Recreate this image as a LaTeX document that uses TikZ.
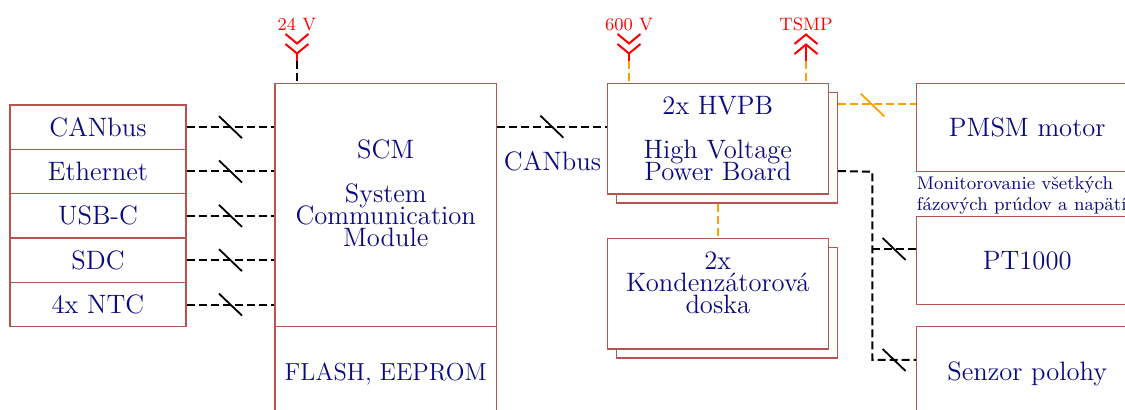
\documentclass[tikz,border=0pt]{standalone}
\usepackage{fontspec}
\usetikzlibrary{calc}
\definecolor{boxred}{RGB}{184,84,80}
\definecolor{txtblue}{RGB}{10,10,130}
\definecolor{hvorange}{RGB}{255,160,0}
\newcommand\mainfnt{\fontsize{13.3}{11}\selectfont\lineskiplimit=-20pt\relax}
\newcommand\flashfnt{\fontsize{12.3}{11}\selectfont}
\newcommand\smallfnt{\fontsize{9.2}{10.5}\selectfont\lineskiplimit=-20pt\relax}
\newcommand\lblfnt{\fontsize{9}{10}\selectfont}
\begin{document}
\begin{tikzpicture}[x=0.5pt,y=-0.5pt,
  box/.style={draw=boxred, line width=0.6pt, fill=white, inner sep=0pt, text=txtblue, font=\mainfnt},
  txt/.style={text=txtblue, font=\mainfnt, align=center, inner sep=0pt, anchor=base},
  small/.style={text=txtblue, font=\smallfnt, align=left, inner sep=0pt, anchor=base west},
  lbl/.style={text=red, font=\lblfnt, inner sep=0pt, anchor=base},
  bus/.style={draw=black, line width=1pt, dash pattern=on 4pt off 2pt},
  hv/.style={draw=hvorange, line width=1pt, dash pattern=on 4pt off 2pt},
  slash/.style={draw=black, line width=0.9pt},
  oslash/.style={draw=hvorange, line width=0.9pt},
  chev/.style={draw=red, line width=1pt},
]
\useasboundingbox (0,0) rectangle (1125,410);
\clip (0,0) rectangle (1125,410);

% left interface boxes
\node[box, minimum width=88pt, minimum height=22.17pt] (can) at (98,127.2) {CANbus};
\node[box, minimum width=88pt, minimum height=22.17pt] (eth) at (98,171.5) {Ethernet};
\node[box, minimum width=88pt, minimum height=22.17pt] (usb) at (98,215.9) {USB-C};
\node[box, minimum width=88pt, minimum height=22.17pt] (sdc) at (98,260.2) {SDC};
\node[box, minimum width=88pt, minimum height=22.17pt] (ntc) at (98,304.6) {4x NTC};

% SCM
\node[box, minimum width=110.75pt, minimum height=121.5pt] (scm) at (385.75,204.8) {};
\node[box, font=\flashfnt, minimum width=110.75pt, minimum height=47.4pt] (flash) at (385.75,373.7) {FLASH, EEPROM};
\node[txt] (scmtxt) at (385.75,246.7) {SCM\\[11pt]System\\Communication\\Module};

% HVPB
\node[box, minimum width=110.5pt, minimum height=55.35pt] (hvpbs) at (726.8,147.65) {};
\node[box, minimum width=110.5pt, minimum height=55.35pt] (hvpb) at (717.8,138.65) {};
\node[txt] (hvpbtxt) at (717.8,180.7) {2x HVPB\\[11pt]High Voltage\\Power Board};

% Kondenzatorova doska
\node[box, minimum width=110.5pt, minimum height=55.35pt] (konds) at (726.8,302.65) {};
\node[box, minimum width=110.5pt, minimum height=55.35pt] (kond) at (717.8,293.65) {};
\node[txt] (kondtxt) at (717.8,313.3) {2x\\Kondenzátorová\\doska};

% right boxes
\node[box, minimum width=110.75pt, minimum height=44.1pt] (pmsm) at (1027.25,127.6) {PMSM motor};
\node[small] (mon) at (916.5,210.3) {Monitorovanie všetkých\\fázových prúdov a napätí};
\node[box, minimum width=110.75pt, minimum height=43.8pt] (pt) at (1027.25,260.5) {PT1000};
\node[box, minimum width=110.75pt, minimum height=46.8pt] (senzor) at (1027.25,373.5) {Senzor polohy};

% left connectors
\foreach \n in {can,eth,usb,sdc,ntc} {
  \draw[bus] (\n.east) -- (\n.east -| scm.west);
  \draw[slash] ($(\n.east)!0.5!(\n.east -| scm.west)$) ++(-11.5,-11) -- ++(23,22);
}

% CANbus SCM -> HVPB
\coordinate (scmcan) at ($(scm.north east)+(0,44)$);
\draw[bus] (scmcan) -- (scmcan -| hvpb.west);
\draw[slash] ($(scmcan)!0.5!(scmcan -| hvpb.west)$) ++(-11.5,-11) -- ++(23,22);
\node[txt] (canlbl) at (552.5,171) {CANbus};

% supply labels and arrows
\node[lbl] (l24) at (297,30.7) {24 V};
\node[lbl] (l600) at (629,30.7) {600 V};
\node[lbl] (ltsmp) at (806,30.7) {TSMP};

\draw[chev] (285.5,34) -- (297,43.5) -- (308.5,34);
\draw[chev] (285.5,44) -- (297,53.5) -- (308.5,44);
\coordinate (a24) at (297,53.5);
\coordinate (s24) at (297,61);
\draw[chev] (a24) -- (s24);
\draw[bus] (s24) -- (s24 |- scm.north);

\draw[chev] (617.5,34) -- (629,43.5) -- (640.5,34);
\draw[chev] (617.5,44) -- (629,53.5) -- (640.5,44);
\coordinate (a600) at (629,53.5);
\coordinate (s600) at (629,61);
\draw[chev] (a600) -- (s600);
\draw[hv] (s600) -- (s600 |- hvpb.north);

\draw[chev] (794.5,44) -- (806,34.5) -- (817.5,44);
\draw[chev] (794.5,54) -- (806,44.5) -- (817.5,54);
\coordinate (atsmp) at (806,44.5);
\coordinate (stsmp) at (806,61);
\draw[chev] (atsmp) -- (stsmp);
\draw[hv] (stsmp) -- (stsmp |- hvpb.north);

% HVPB -> Kondenzatorova doska
\draw[hv] (hvpbs.south -| hvpb.south) -- (kond.north);

% HVPB -> PMSM
\coordinate (hvpm) at ($(hvpbs.north east)+(0,12.7)$);
\draw[hv] (hvpm) -- (hvpm -| pmsm.west);
\draw[oslash] (872.5,105) ++(-11.8,-11.3) -- ++(23.6,22.6);

% HVPB -> sensors
\coordinate (hvout) at ($(hvpbs.north east)+(0,79.4)$);
\coordinate (b1) at (872.3,171.7);
\coordinate (b2) at (872.3,249);
\coordinate (b3) at (872.3,360);
\draw[bus] (hvout) -- (b1) -- (b3) -- (b3 -| senzor.west);
\draw[bus] (b2) -- (b2 -| pt.west);
\draw[slash] ($(b2)!0.5!(b2 -| pt.west)$) ++(-11.5,-11) -- ++(23,22);
\draw[slash] ($(b3)!0.5!(b3 -| senzor.west)$) ++(-11.5,-11) -- ++(23,22);
\end{tikzpicture}
\end{document}
